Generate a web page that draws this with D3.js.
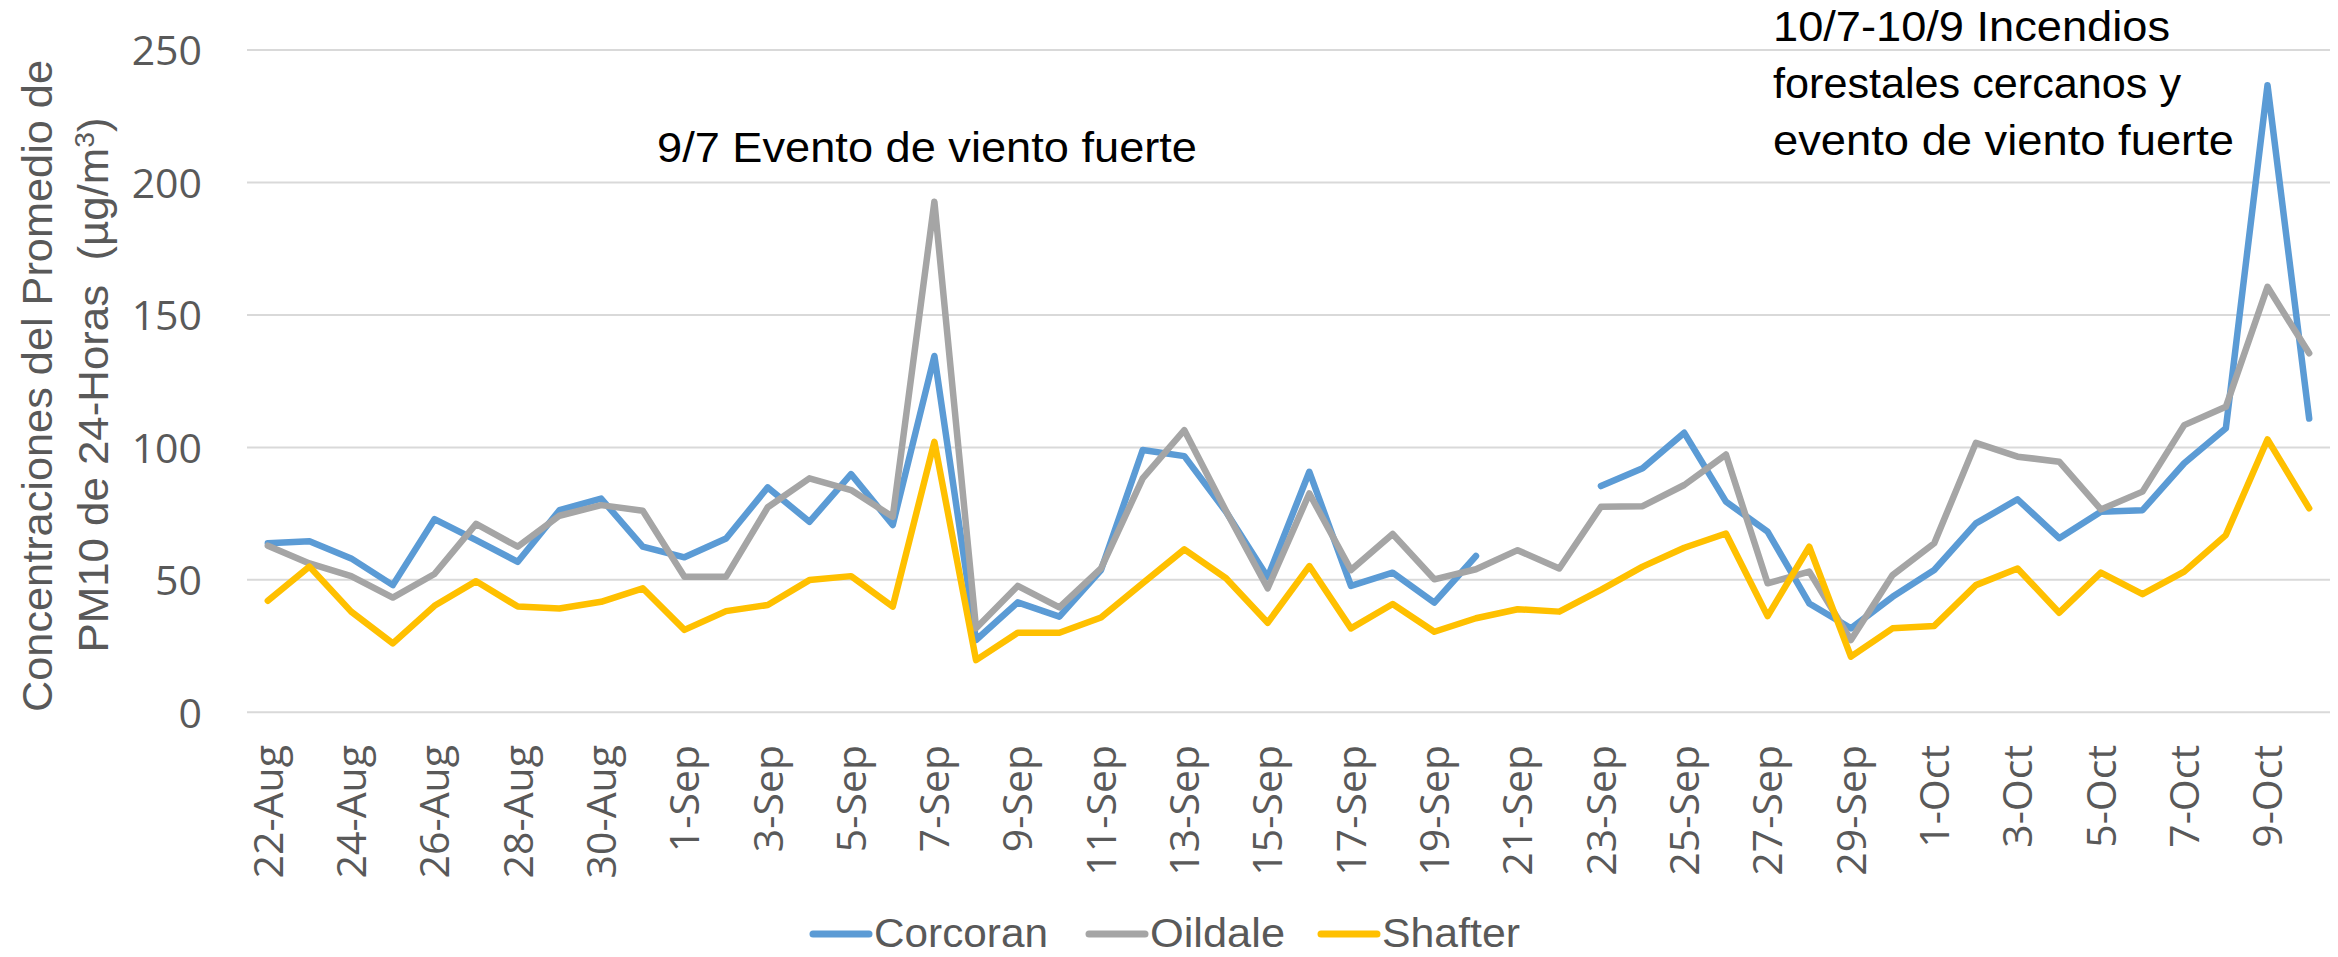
<!DOCTYPE html>
<html>
<head>
<meta charset="utf-8">
<script src="https://d3js.org/d3.v7.min.js"></script>
<style>
    html, body { margin: 0; padding: 0; background: #fff; }
    svg { display: block; }
    .tick-label { font-family: "Open Sans", sans-serif; font-size: 41px; fill: #595959; }
    .narrow { font-family: "Liberation Sans Narrow", "Liberation Sans", sans-serif; }
    .series { fill: none; stroke-width: 6.5px; stroke-linejoin: round; stroke-linecap: round; }
</style>
</head>
<body>
<div id="chart"></div>
<script>
    // daily categories, 22-Aug .. 10-Oct
    var dates = ["22-Aug", "23-Aug", "24-Aug", "25-Aug", "26-Aug", "27-Aug", "28-Aug", "29-Aug", "30-Aug", "31-Aug",
        "1-Sep", "2-Sep", "3-Sep", "4-Sep", "5-Sep", "6-Sep", "7-Sep", "8-Sep", "9-Sep", "10-Sep",
        "11-Sep", "12-Sep", "13-Sep", "14-Sep", "15-Sep", "16-Sep", "17-Sep", "18-Sep", "19-Sep", "20-Sep",
        "21-Sep", "22-Sep", "23-Sep", "24-Sep", "25-Sep", "26-Sep", "27-Sep", "28-Sep", "29-Sep", "30-Sep",
        "1-Oct", "2-Oct", "3-Oct", "4-Oct", "5-Oct", "6-Oct", "7-Oct", "8-Oct", "9-Oct", "10-Oct"];

    var corcoran = [63.8, 64.6, 58.1, 48, 72.9, 65, 56.8, 76.3, 80.7, 62.5,
        58.5, 65.6, 84.9, 71.9, 89.9, 70.7, 134.5, 27.3, 41.5, 36.1,
        53.7, 99.0, 96.7, 75.7, 51, 90.8, 47.7, 52.7, 41.4, 59,
        null, null, 85.4, 92.1, 105.5, 79.5, 68.2, 41.1, 31.7, 43.6,
        53.7, 71.3, 80.4, 65.7, 75.7, 76.3, 94, 107.2, 236.7, 110.9];

    var oildale = [62.9, 56.2, 51.4, 43.3, 52.2, 71.1, 62.5, 74.2, 78.2, 76.1,
        51.2, 51.2, 77.4, 88.3, 83.9, 73.8, 192.7, 31.7, 47.7, 39.6,
        54.3, 88.3, 106.5, 76, 46.8, 82.6, 53.7, 67.3, 50.2, 54,
        61.2, 54.3, 77.6, 77.8, 85.8, 97.3, 48.7, 53.1, 27.3, 51.8,
        63.8, 101.7, 96.5, 94.6, 76.6, 83.3, 108.4, 115.3, 160.6, 135.5];

    var shafter = [42.1, 55, 38, 26, 40.2, 49.5, 39.9, 39.2, 41.7, 46.8,
        31.1, 38.2, 40.5, 49.9, 51.4, 39.9, 102.1, 19.7, 30, 30,
        35.8, 48.7, 61.5, 50.6, 33.8, 55.2, 31.7, 40.9, 30.4, 35.5,
        38.9, 38, 46.2, 55, 62.1, 67.5, 36.3, 62.5, 21, 31.7,
        32.6, 48, 54.3, 37.6, 52.7, 44.6, 53.1, 66.9, 103, 77];

    var seriesNames = ["Corcoran", "Oildale", "Shafter"];
    var seriesColors = ["#5b9bd5", "#a5a5a5", "#ffc000"];
    var yTicks = [0, 50, 100, 150, 200, 250];

    var width = 2338, height = 957;
    var plot = {left: 247, right: 2330, top: 50, bottom: 712.3};

    var svg = d3.select("#chart").append("svg")
        .attr("width", width)
        .attr("height", height);

    var step = (plot.right - plot.left) / dates.length;

    var x = d3.scalePoint()
        .domain(dates)
        .range([plot.left + step / 2, plot.right - step / 2]);

    var y = d3.scaleLinear()
        .domain([0, 250])
        .range([plot.bottom, plot.top]);

    // horizontal gridlines
    svg.append("g").selectAll("line")
        .data(yTicks)
        .enter().append("line")
        .attr("x1", plot.left)
        .attr("x2", plot.right)
        .attr("y1", function (d) { return y(d); })
        .attr("y2", function (d) { return y(d); })
        .style("stroke", "#d9d9d9")
        .style("stroke-width", "2px");

    // y axis labels
    var yAxis = svg.append("g")
        .attr("transform", "translate(202,0)")
        .call(d3.axisLeft(y).tickValues(yTicks).tickSize(0).tickPadding(0));
    yAxis.select(".domain").remove();
    yAxis.selectAll("text")
        .attr("class", "tick-label")
        .attr("font-family", null)
        .attr("font-size", null)
        .attr("fill", null)
        .attr("dy", "0.36em");

    // x axis labels, every second day, rotated
    svg.append("g").selectAll("text")
        .data(dates.filter(function (d, i) { return i % 2 === 0; }))
        .enter().append("text")
        .attr("class", "tick-label")
        .attr("text-anchor", "end")
        .attr("dy", "0.36em")
        .attr("transform", function (d) { return "translate(" + x(d) + ",745) rotate(-90)"; })
        .text(function (d) { return d; });

    // series lines
    var allSeries = [corcoran, oildale, shafter];
    var line = d3.line()
        .defined(function (d) { return d != null; })
        .x(function (d, i) { return x(dates[i]); })
        .y(function (d) { return y(d); });

    svg.append("g").selectAll("path")
        .data(allSeries)
        .enter().append("path")
        .attr("class", "series")
        .attr("d", line)
        .style("stroke", function (d, i) { return seriesColors[i]; });

    // y axis title
    var title = svg.append("g").attr("class", "narrow").style("fill", "#595959").style("font-size", "42px");
    title.append("text")
        .attr("text-anchor", "middle")
        .attr("transform", "translate(52,386) rotate(-90)")
        .attr("textLength", 652)
        .attr("lengthAdjust", "spacingAndGlyphs")
        .text("Concentraciones del Promedio de");
    var t2 = title.append("text")
        .attr("text-anchor", "middle")
        .attr("transform", "translate(108,385) rotate(-90)")
        .attr("textLength", 535)
        .attr("lengthAdjust", "spacingAndGlyphs");
    t2.append("tspan").text("PM10 de 24-Horas\u00a0 (\u00b5g/m");
    t2.append("tspan").attr("dy", "-14").style("font-size", "27px").text("3");
    t2.append("tspan").attr("dy", "14").text(")");

    // annotations
    var notes = svg.append("g").attr("class", "narrow").style("fill", "#000").style("font-size", "42px");
    notes.append("text")
        .attr("x", 657).attr("y", 162)
        .attr("textLength", 540)
        .attr("lengthAdjust", "spacingAndGlyphs")
        .text("9/7 Evento de viento fuerte");

    var fireLines = ["10/7-10/9 Incendios", "forestales cercanos y", "evento de viento fuerte"];
    var fireWidths = [397, 408, 461];
    notes.selectAll("text.fire")
        .data(fireLines)
        .enter().append("text")
        .attr("class", "fire")
        .attr("x", 1773)
        .attr("y", function (d, i) { return 41 + i * 57; })
        .attr("textLength", function (d, i) { return fireWidths[i]; })
        .attr("lengthAdjust", "spacingAndGlyphs")
        .text(function (d) { return d; });

    // legend
    var legendX = [813, 1089, 1321];
    var legendTextW = [174, 135, 138];
    var legend = svg.append("g").attr("class", "narrow").style("font-size", "40px");
    var item = legend.selectAll("g")
        .data(seriesNames)
        .enter().append("g")
        .attr("transform", function (d, i) { return "translate(" + legendX[i] + ",934)"; });
    item.append("line")
        .attr("x1", 0).attr("x2", 56)
        .style("stroke", function (d, i) { return seriesColors[i]; })
        .style("stroke-width", "7px")
        .style("stroke-linecap", "round");
    item.append("text")
        .attr("x", 61).attr("y", 13)
        .style("fill", "#595959")
        .attr("textLength", function (d, i) { return legendTextW[i]; })
        .attr("lengthAdjust", "spacingAndGlyphs")
        .text(function (d) { return d; });
</script>
</body>
</html>
